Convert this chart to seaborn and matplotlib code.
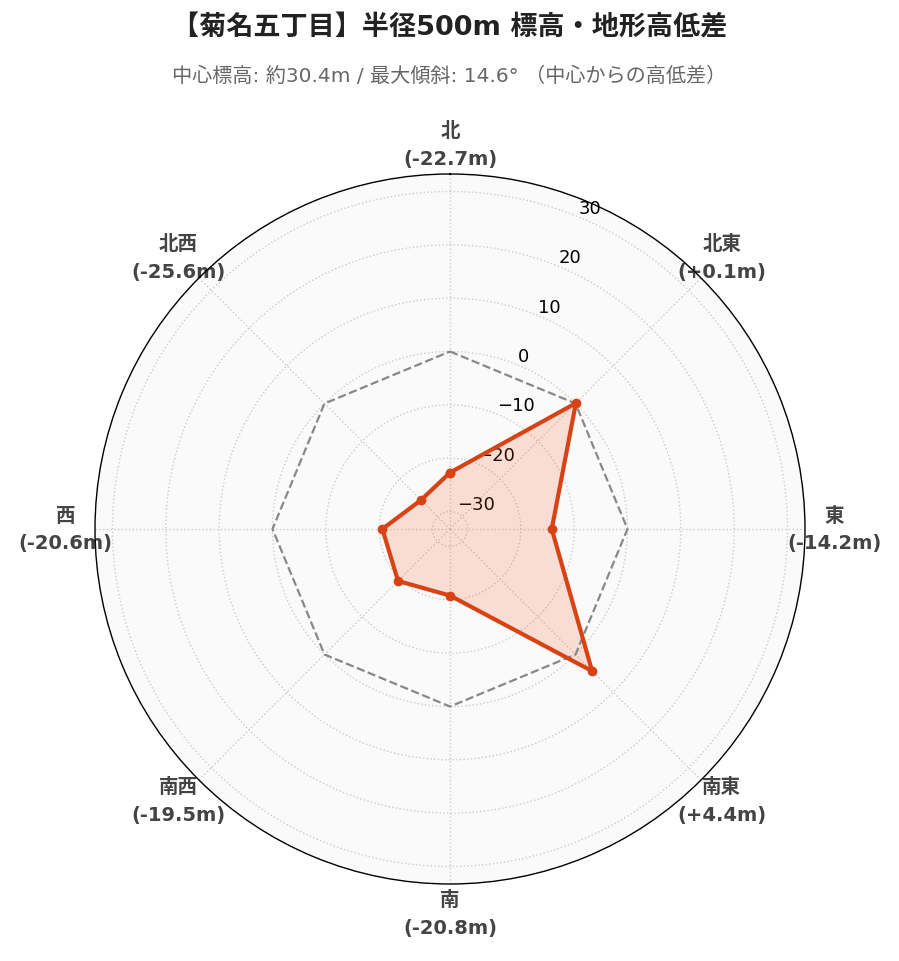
import numpy as np
import pandas as pd
import matplotlib
matplotlib.use('Agg')
import matplotlib.pyplot as plt
import seaborn as sns

# data
directions = ['北', '北東', '東', '南東', '南', '南西', '西', '北西']
diffs = [-22.7, 0.1, -14.2, 4.4, -20.8, -19.5, -20.6, -25.6]
center_elev = 30.4
max_slope = 14.6
rticks = [-30, -20, -10, 0, 10, 20, 30]

sns.set_theme(style='white')
plt.rcParams['font.family'] = ['DejaVu Sans', 'Noto Sans CJK JP']

theta = np.deg2rad(np.arange(0, 360, 45))
df = pd.DataFrame({'theta': np.append(theta, theta[0] + 2 * np.pi),
                   'diff': diffs + [diffs[0]]})
zero_df = pd.DataFrame({'theta': df['theta'], 'diff': 0.0})

fig = plt.figure(figsize=(8.99, 9.62), dpi=100)
ax = fig.add_axes([95 / 899, 77 / 962, 710 / 899, 710 / 962], projection='polar')
ax.set_theta_zero_location('N')
ax.set_theta_direction(-1)
ax.set_facecolor('#fafafa')

lim = max(abs(d) for d in diffs) * 1.3
ax.set_ylim(-lim, lim)

# zero reference (dashed)
sns.lineplot(data=zero_df, x='theta', y='diff', ax=ax, sort=False,
             color='#888888', linestyle='--', linewidth=1.6, zorder=3)

ax.fill(df['theta'], df['diff'], color='#f4511e', alpha=0.17, zorder=2)
sns.lineplot(data=df, x='theta', y='diff', ax=ax, sort=False,
             color='#d84315', linewidth=3, marker='o', markersize=7,
             markeredgewidth=0, zorder=4)

labels = [f'{n}\n({d:+.1f}m)' for n, d in zip(directions, diffs)]
ax.set_xticks(theta)
ax.set_xticklabels(labels, fontsize=14, fontweight='bold', color='#444444',
                   linespacing=1.6)
ax.tick_params(axis='x', pad=8)

ax.set_yticks(rticks)
ax.set_yticklabels([f'{t}'.replace('-', '\u2212') for t in rticks],
                   fontsize=13, color='black')
ax.set_rlabel_position(22.5)

ax.grid(True, color='#cccccc', linestyle=':', linewidth=1)
ax.spines['polar'].set_color('black')
ax.spines['polar'].set_linewidth(1)
ax.set_xlabel('')
ax.set_ylabel('')

fig.text(0.5, 1 - 28 / 962, '【菊名五丁目】半径500m 標高・地形高低差',
         ha='center', va='center', fontsize=19.5, fontweight='bold', color='#222222')
fig.text(0.5, 1 - 76 / 962,
         f'中心標高: 約{center_elev}m / 最大傾斜: {max_slope}° （中心からの高低差）',
         ha='center', va='center', fontsize=14.5, color='#666666')

fig.savefig('out.png', dpi=100, facecolor='white')
